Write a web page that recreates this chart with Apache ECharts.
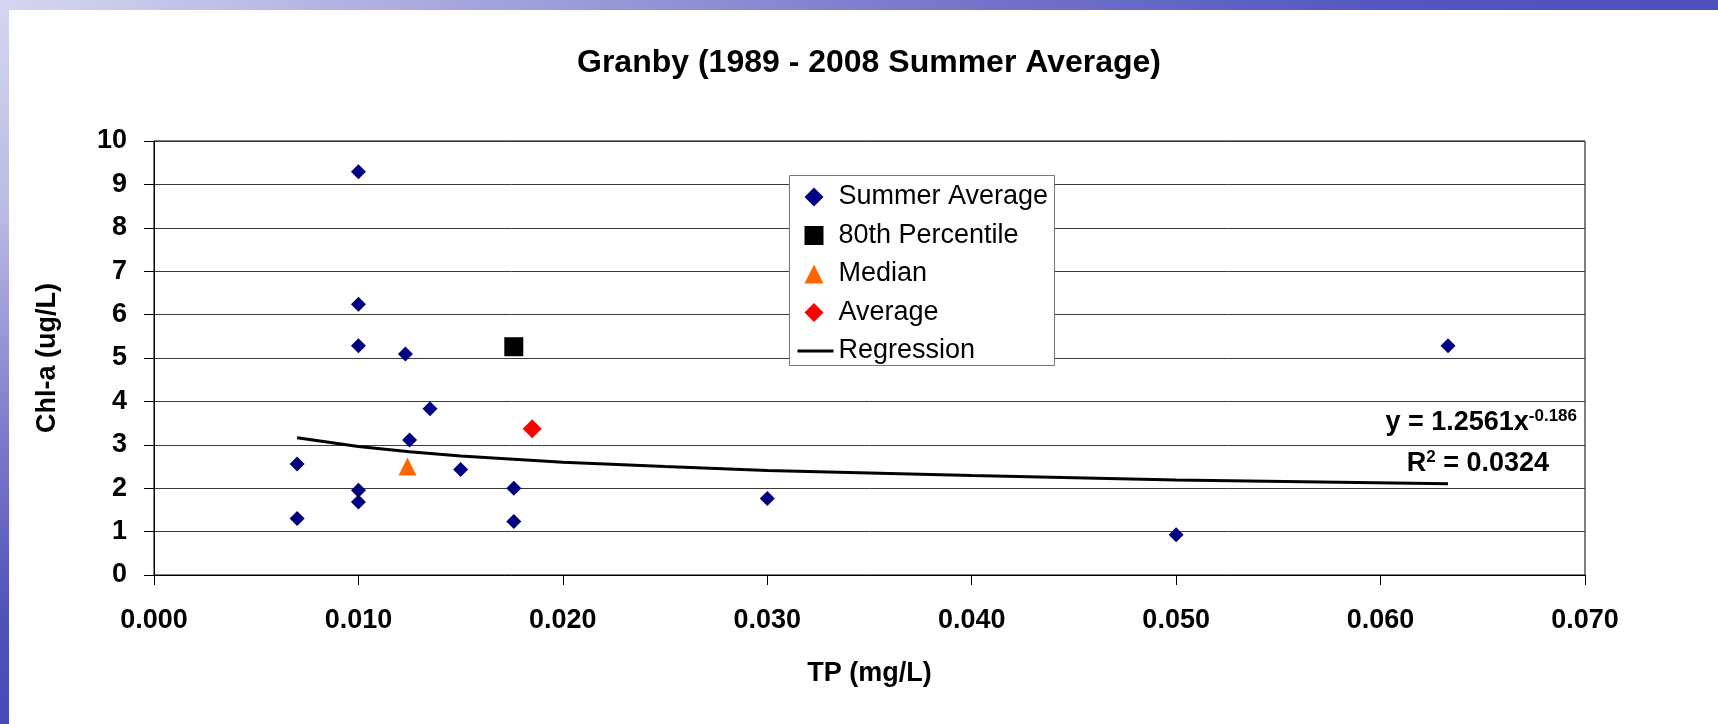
<!DOCTYPE html>
<html>
<head>
<meta charset="utf-8">
<script src="https://cdn.jsdelivr.net/npm/echarts@6/dist/echarts.min.js"></script>
<style>
  html, body { margin: 0; padding: 0; }
  body {
    width: 1718px; height: 724px; position: relative; overflow: hidden;
    background: #ffffff;
  }
  .topband {
    position: absolute; left: 0; top: 0; width: 1718px; height: 10px;
    background: linear-gradient(to right, #d6d6f0 0%, #a9a9df 25%, #7676cc 55%, #5656c0 80%, #5050bd 100%);
  }
  .leftband {
    position: absolute; left: 0; top: 0; width: 9px; height: 724px;
    background: linear-gradient(to bottom, #d6d6f0 0%, #b9b9e4 30%, #7b7bcb 60%, #5151ba 85%, #4a4ab6 100%);
  }
  #myChart {
    position: absolute; left: 9px; top: 10px; width: 1709px; height: 714px;
    background: #ffffff;
  }
</style>
</head>
<body>
<div class="topband"></div>
<div class="leftband"></div>
<div id="myChart"></div>
<script>
// summer averages 1989 - 2008
var tpSummer = [0.0100, 0.0100, 0.0100, 0.0123, 0.0135, 0.0125, 0.0070, 0.0150, 0.0100, 0.0100, 0.0176, 0.0176, 0.0070, 0.0300, 0.0500, 0.0633];
var chlSummer = [9.29, 6.24, 5.28, 5.09, 3.83, 3.11, 2.56, 2.43, 1.95, 1.68, 2.00, 1.23, 1.30, 1.76, 0.93, 5.28];

// summary points
var pct80 = [0.0176, 5.26];
var medianPt = [0.0124, 2.50];
var averagePt = [0.0185, 3.37];

// power trendline
var regTp = [0.007, 0.010, 0.0125, 0.015, 0.020, 0.025, 0.030, 0.040, 0.050, 0.0633];
var regChl = [3.16, 2.96, 2.84, 2.74, 2.60, 2.50, 2.41, 2.29, 2.19, 2.10];

var xTicks = [0, 0.07, 0.01];
var yTicks = [0, 10, 1];

var FONT = "Liberation Sans, Arial, sans-serif";

function pairs(xs, ys) {
  var out = [];
  for (var i = 0; i < xs.length; i++) {
    out.push([xs[i], ys[i]]);
  }
  return out;
}

var legendText = { fontFamily: FONT, fontSize: 27, color: "#000", lineHeight: 28 };

var myChart = echarts.init(document.getElementById("myChart"));
var option = {
  animation: false,
  title: {
    text: "Granby (1989 - 2008 Summer Average)",
    left: 860,
    top: 37,
    padding: 0,
    textAlign: "center",
    textStyle: { fontFamily: FONT, fontSize: 32, fontWeight: "bold", color: "#000" }
  },
  grid: {
    left: 145,
    top: 131,
    right: 133,
    bottom: 149,
    show: true,
    borderColor: "#000",
    borderWidth: 1,
    backgroundColor: "transparent"
  },
  legend: [
    {
      orient: "vertical",
      left: 795.5,
      top: 173,
      padding: 0,
      itemWidth: 19,
      itemHeight: 19,
      itemGap: 10.5,
      z: 10,
      textStyle: Object.assign({ padding: [0, 0, 0, 10] }, legendText),
      data: ["Summer Average", "80th Percentile", "Median", "Average"]
    },
    {
      orient: "vertical",
      left: 788.5,
      top: 327,
      padding: 0,
      itemWidth: 36,
      itemHeight: 3,
      z: 10,
      textStyle: legendText,
      data: [{ name: "Regression", icon: "rect" }]
    }
  ],
  xAxis: {
    type: "value",
    min: xTicks[0],
    max: xTicks[1],
    interval: xTicks[2],
    name: "TP (mg/L)",
    nameLocation: "middle",
    nameGap: 85,
    nameTextStyle: { fontFamily: FONT, fontSize: 27, fontWeight: "bold", color: "#000" },
    axisLine: { show: true, lineStyle: { color: "#000", width: 1 } },
    axisTick: { show: true, inside: false, length: 10, lineStyle: { color: "#000" } },
    axisLabel: {
      margin: 32,
      fontFamily: FONT,
      fontSize: 27,
      fontWeight: "bold",
      color: "#000",
      formatter: function (v) { return v.toFixed(3); }
    },
    splitLine: { show: false }
  },
  yAxis: {
    type: "value",
    min: yTicks[0],
    max: yTicks[1],
    interval: yTicks[2],
    name: "Chl-a (ug/L)",
    nameLocation: "middle",
    nameRotate: 90,
    nameGap: 93,
    nameTextStyle: { fontFamily: FONT, fontSize: 27, fontWeight: "bold", color: "#000" },
    axisLine: { show: true, lineStyle: { color: "#000", width: 1 } },
    axisTick: { show: true, inside: false, length: 10, lineStyle: { color: "#000" } },
    axisLabel: {
      margin: 27,
      fontFamily: FONT,
      fontSize: 27,
      fontWeight: "bold",
      color: "#000"
    },
    splitLine: { show: true, lineStyle: { color: "#3a3a3a", width: 1 } }
  },
  graphic: [
    {
      // legend frame
      type: "rect",
      left: 780,
      top: 165,
      z: 5,
      shape: { width: 265, height: 190 },
      style: { fill: "#fff", stroke: "#777", lineWidth: 1 }
    },
    {
      type: "text",
      right: 1709 - 1568,
      top: 398,
      z: 5,
      style: {
        text: "{m|y = 1.2561x}{s|-0.186}",
        align: "right",
        rich: {
          m: { fontFamily: FONT, fontSize: 27, fontWeight: "bold", fill: "#000", lineHeight: 30, verticalAlign: "middle" },
          s: { fontFamily: FONT, fontSize: 17, fontWeight: "bold", fill: "#000", lineHeight: 30, verticalAlign: "top" }
        }
      }
    },
    {
      type: "text",
      right: 1709 - 1540,
      top: 439,
      z: 5,
      style: {
        text: "{m|R}{s|2}{m| = 0.0324}",
        align: "right",
        rich: {
          m: { fontFamily: FONT, fontSize: 27, fontWeight: "bold", fill: "#000", lineHeight: 30, verticalAlign: "middle" },
          s: { fontFamily: FONT, fontSize: 17, fontWeight: "bold", fill: "#000", lineHeight: 30, verticalAlign: "top" }
        }
      }
    }
  ],
  series: [
    {
      name: "Regression",
      type: "line",
      showSymbol: false,
      symbol: "none",
      lineStyle: { color: "#000", width: 3 },
      itemStyle: { color: "#000" },
      data: pairs(regTp, regChl),
      z: 2
    },
    {
      name: "Summer Average",
      type: "scatter",
      symbol: "diamond",
      symbolSize: 15,
      itemStyle: { color: "#000080", opacity: 1 },
      data: pairs(tpSummer, chlSummer),
      z: 3
    },
    {
      name: "80th Percentile",
      type: "scatter",
      symbol: "rect",
      symbolSize: 19,
      itemStyle: { color: "#000", opacity: 1 },
      data: [pct80],
      z: 3
    },
    {
      name: "Median",
      type: "scatter",
      symbol: "triangle",
      symbolSize: 18,
      itemStyle: { color: "#ff6600", opacity: 1 },
      data: [medianPt],
      z: 3
    },
    {
      name: "Average",
      type: "scatter",
      symbol: "diamond",
      symbolSize: 19,
      itemStyle: { color: "#ff0000", opacity: 1 },
      data: [averagePt],
      z: 3
    }
  ]
};
myChart.setOption(option);
</script>
</body>
</html>
